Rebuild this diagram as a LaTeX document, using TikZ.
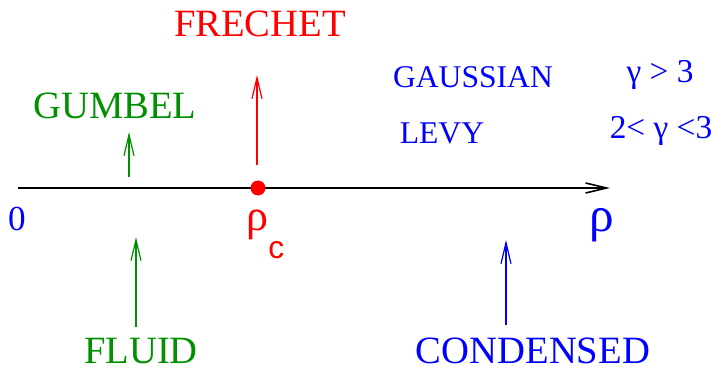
\documentclass[tikz,border=0pt]{standalone}
\usepackage{fontspec}
\setmainfont{Liberation Serif}
\setsansfont{Liberation Sans}
\usetikzlibrary{arrows.meta, positioning}
\definecolor{figgreen}{RGB}{0,144,0}

\begin{document}
\begin{tikzpicture}[
    x=0.02cm, y=-0.02cm,
    axis/.style={line width=0.9pt, -{Straight Barb[length=4.2mm, width=2mm]}},
    phase/.style={line width=0.7pt, -{Straight Barb[length=4.2mm, width=2mm]}},
    lbl/.style={inner sep=0pt, anchor=base, font=\fontsize{22}{24}\selectfont},
    small/.style={inner sep=0pt, anchor=base, font=\fontsize{18}{20}\selectfont, blue},
    greek/.style={inner sep=0pt, font=\fontsize{25}{27}\selectfont},
    dot/.style={circle, fill=red, inner sep=0pt, minimum size=8.5pt}
]
\useasboundingbox (0,0) rectangle (711,369);

% Axis
\coordinate (origin) at (18,188);
\coordinate (axisend) at (610,188);
\draw[axis] (origin) -- (axisend);
\node[dot] (crit) at (258,188) {};
\node[inner sep=0pt, anchor=base, blue, font=\fontsize{20}{22}\selectfont] (zero) at (17,230) {0};
\node[greek, anchor=north west, red] (rhoc) at (246,210)
    {ρ\raisebox{-0.56cm}{\sffamily\fontsize{18}{20}\selectfont c}};
\node[greek, anchor=north west, blue, font=\fontsize{28}{30}\selectfont] (rho) at (589,208) {ρ};

% Phases above the axis
\node[lbl, figgreen] (gumbel) at (115,118) {GUMBEL};
\node[lbl, red] (frechet) at (260,36) {FRECHET};
\node[small] (gauss) at (473,87) {GAUSSIAN};
\node[small] (levy) at (442,143) {LEVY};
\node[small, font=\fontsize{19}{21}\selectfont] (gbig) at (660,82) {γ > 3};
\node[small, font=\fontsize{19}{21}\selectfont] (gmid) at (661,138) {2< γ <3};

\coordinate (gumbeltail) at (129,177);
\coordinate (gumbeltip) at (129,132);
\draw[phase, figgreen] (gumbeltail) -- (gumbeltip);
\coordinate (frechettail) at (257,165);
\coordinate (frechettip) at (257,75);
\draw[phase, red] (frechettail) -- (frechettip);

% Phases below the axis
\node[lbl, figgreen] (fluid) at (141,363) {FLUID};
\node[lbl, blue] (cond) at (533,363) {CONDENSED};

\coordinate (fluidtail) at (136,327);
\coordinate (fluidtip) at (136,237);
\draw[phase, figgreen] (fluidtail) -- (fluidtip);
\coordinate (condtail) at (506,325);
\coordinate (condtip) at (506,240);
\draw[phase, blue] (condtail) -- (condtip);

\end{tikzpicture}
\end{document}
